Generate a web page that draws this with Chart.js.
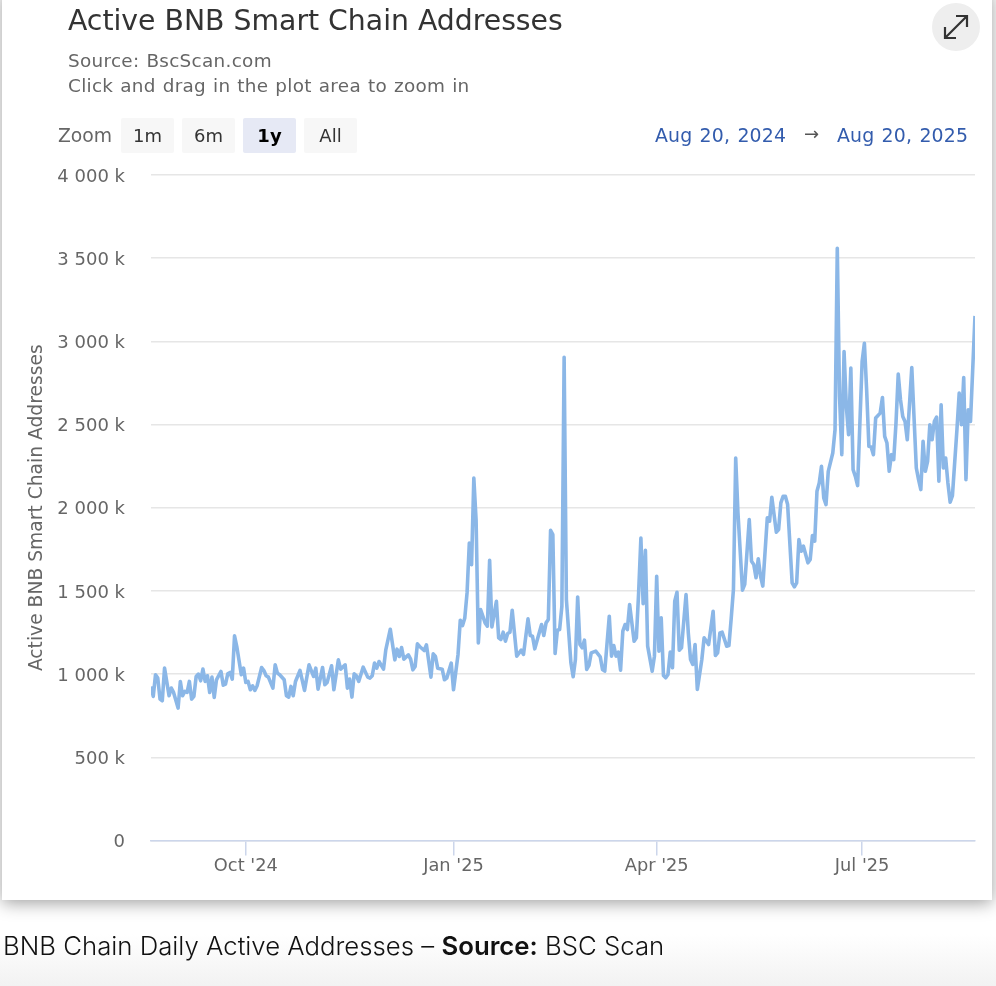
<!DOCTYPE html>
<html>
<head>
<meta charset="utf-8">
<title>Active BNB Smart Chain Addresses</title>
<script src="https://cdn.jsdelivr.net/npm/chart.js@4"></script>
<style>
    html, body { margin: 0; padding: 0; width: 996px; height: 986px; overflow: hidden; background: #fff; }
    body { position: relative; font-family: "DejaVu Sans", sans-serif; }
    .page-bottom { position: absolute; left: 0; top: 900px; width: 996px; height: 86px; background: linear-gradient(#fff 40%, #f2f2f2); }
    .card { position: absolute; left: 2px; top: -10px; width: 990px; height: 910px; background: #fff; box-shadow: 0 3px 16px rgba(0, 0, 0, .38); }
    #chart { position: absolute; left: 0; top: 0; }
    .txt { position: absolute; white-space: nowrap; line-height: 1; }
    .title { left: 68px; top: 7px; font-size: 28.3px; color: #333; }
    .sub { left: 68px; font-size: 18.4px; letter-spacing: .3px; word-spacing: .8px; color: #666; }
    .zoom-label { left: 58px; top: 127px; font-size: 18.8px; color: #666; }
    .btn { position: absolute; top: 118px; width: 53px; height: 35px; line-height: 36px; text-align: center; background: #f7f7f7; color: #333; font-size: 18px; border-radius: 2px; }
    .btn.on { background: #e6e9f5; font-weight: bold; color: #000; }
    .range { top: 126px; font-size: 18.9px; letter-spacing: .18px; word-spacing: 1px; color: #335cad; }
    .arrow { left: 804px; top: 125px; font-size: 18px; color: #555; }
    .expand { position: absolute; left: 932px; top: 3px; width: 48px; height: 48px; border-radius: 50%; background: #eee; }
    .caption { left: 3px; top: 933px; font-family: Inter, sans-serif; font-weight: 300; font-size: 25.75px; color: #111; }
    .caption b { font-weight: 600; }
</style>
</head>
<body>
<div class="page-bottom"></div>
<div class="card"></div>
<canvas id="chart" width="996" height="986"></canvas>

<div class="txt title">Active BNB Smart Chain Addresses</div>
<div class="txt sub" style="top:52px">Source: BscScan.com</div>
<div class="txt sub" style="top:77px">Click and drag in the plot area to zoom in</div>
<div class="txt zoom-label">Zoom</div>
<div class="btn" style="left:121px">1m</div>
<div class="btn" style="left:182px">6m</div>
<div class="btn on" style="left:243px">1y</div>
<div class="btn" style="left:304px">All</div>
<div class="txt range" style="left:655px">Aug 20, 2024</div>
<div class="txt arrow">→</div>
<div class="txt range" style="left:837px">Aug 20, 2025</div>
<div class="expand">
    <svg width="48" height="48" viewBox="0 0 48 48" fill="none" stroke="#333" stroke-width="2.2">
        <path d="M13 35 L35 13 M24 13 H35 V24 M13 24 V35 H24"/>
    </svg>
</div>
<div class="txt caption">BNB Chain Daily Active Addresses – <b>Source:</b> BSC Scan</div>

<script>
// days since Aug 20, 2024
const dayOffsets = [
    0, 1, 2, 3, 4, 5, 6, 8, 9, 10, 12, 13, 14, 15, 16, 17, 18, 19, 20, 21, 22, 23, 24, 25, 26, 27, 28, 29, 31, 32,
    33, 34, 35, 36, 37, 38, 40, 41, 42, 43, 44, 45, 46, 47, 49, 50, 51, 52, 54, 55, 56, 57, 59, 60, 61, 62, 63, 64, 66, 68,
    70, 72, 73, 74, 76, 77, 78, 80, 81, 83, 84, 86, 87, 88, 89, 90, 91, 92, 94, 96, 97, 98, 99, 100, 101, 103, 104, 106, 108, 109,
    110, 111, 112, 114, 115, 116, 117, 118, 119, 121, 122, 124, 125, 126, 127, 129, 130, 131, 133, 134,
    136, 137, 138, 139, 140, 141, 142, 143, 144, 145, 146, 148, 149, 150, 151, 153, 154, 155, 156, 157, 158, 159, 160, 162, 164, 165,
    167, 168, 169, 170, 173, 174, 175, 176, 177, 178, 179, 180, 181, 182, 183, 184, 186, 187, 188, 189, 190, 191, 192, 193, 194, 195,
    197, 199, 200, 201, 203, 204, 205, 206, 207, 208, 209, 210, 211, 212, 214, 215, 216, 217, 218, 219, 220, 222, 223, 224, 225, 226,
    227, 228, 229, 230, 231, 232, 233, 234, 235, 237, 238, 239, 240, 241, 242, 244, 245, 247, 249, 250, 251, 252, 253, 255, 256,
    257, 258, 259, 260, 262, 263, 265, 266, 267, 268, 269, 270, 271, 273, 274, 275, 277, 278, 279, 280, 281, 282, 284, 285, 286, 287,
    288, 289, 291, 292, 293, 294, 295, 296, 297, 298, 299, 300, 302, 303, 304, 305, 306, 307, 308, 309, 310, 311, 312, 313, 315, 316,
    317, 318, 319, 320, 321, 323, 324, 325, 326, 327, 328, 329, 330, 331, 332, 333, 334, 335, 337, 339, 340, 341, 342, 343, 344, 345,
    346, 347, 348, 349, 350, 351, 352, 353, 354, 355, 357, 358, 359, 360, 361, 362, 363, 365
];

// active addresses, thousands
const activeAddresses = [
    926, 866, 996, 976, 850, 840, 1036, 870, 916, 890, 796, 956, 870, 896, 890, 956, 850, 866, 986, 1000, 960, 1030, 956, 990, 890, 982, 860, 966, 1016, 934,
    940, 1002, 1010, 970, 1230, 1166, 996, 1036, 950, 956, 906, 930, 902, 930, 1040, 1022, 990, 982, 916, 1056, 1006, 996, 966, 870, 862, 926, 870, 956, 1022, 902,
    1056, 986, 1036, 910, 1040, 936, 950, 1050, 906, 1086, 1030, 1056, 916, 970, 862, 1002, 990, 956, 1042, 982, 976, 990, 1066, 1036, 1076, 1030, 1146, 1270, 1086, 1150,
    1106, 1160, 1090, 1116, 1090, 1026, 1046, 1182, 1166, 1142, 1176, 982, 1122, 1106, 1036, 1030, 966, 976, 1066, 906,
    1118, 1324, 1292, 1338, 1488, 1788, 1658, 2178, 1928, 1188, 1388, 1308, 1288, 1684, 1284, 1438, 1218, 1208, 1252, 1198, 1244, 1252, 1384, 1108, 1144, 1118,
    1332, 1232, 1228, 1152, 1298, 1232, 1308, 1328, 1864, 1838, 1124, 1264, 1268, 1408, 2904, 1448, 1068, 984, 1088, 1464, 1178, 1158, 1204, 1028, 1052, 1128,
    1138, 1104, 1028, 1018, 1348, 1108, 1172, 1108, 1132, 1024, 1258, 1298, 1268, 1418, 1198, 1218, 1488, 1818, 1424, 1744, 1168, 1018, 1108, 1588, 1138, 1338,
    992, 978, 998, 1132, 1038, 1438, 1492, 1144, 1158, 1478, 1248, 1088, 1058, 1178, 908, 1088, 1218, 1178, 1378, 1112, 1128, 1248, 1252, 1168, 1172,
    1333, 1509, 2299, 1969, 1505, 1539, 1929, 1679, 1659, 1579, 1693, 1589, 1529, 1939, 1919, 2063, 1853, 1869, 2029, 2069, 2069, 2019, 1549, 1525, 1549, 1809,
    1739, 1769, 1669, 1689, 1833, 1799, 2099, 2149, 2249, 2059, 2019, 2219, 2329, 2469, 3559, 2669, 2319, 2939, 2609, 2439, 2839, 2229, 2189, 2133, 2879, 2989,
    2709, 2369, 2365, 2319, 2539, 2569, 2663, 2429, 2389, 2219, 2319, 2289, 2509, 2803, 2649, 2549, 2519, 2409, 2843, 2239, 2169, 2109, 2399, 2219, 2279, 2499,
    2409, 2519, 2545, 2159, 2619, 2239, 2299, 2149, 2033, 2073, 2469, 2689, 2499, 2783, 2169, 2589, 2519, 3153
];

const xTickDays = [42, 134, 224, 315];
const xTickLabels = ["Oct '24", "Jan '25", "Apr '25", "Jul '25"];
const yTickValues = [0, 500, 1000, 1500, 2000, 2500, 3000, 3500, 4000];
const yTickLabels = ['0', '500 k', '1 000 k', '1 500 k', '2 000 k', '2 500 k', '3 000 k', '3 500 k', '4 000 k'];

const font = '"DejaVu Sans", sans-serif';

new Chart(document.getElementById('chart'), {
    type: 'line',
    data: {
        datasets: [{
            data: dayOffsets.map((day, i) => ({ x: day, y: activeAddresses[i] })),
            borderColor: '#8bb7e7',
            borderWidth: 3.6,
            borderJoinStyle: 'round',
            pointRadius: 0,
            tension: 0
        }]
    },
    options: {
        responsive: false,
        animation: false,
        layout: { padding: { left: 0, right: 21, top: 175, bottom: 105 } },
        plugins: { legend: { display: false }, tooltip: { enabled: false } },
        scales: {
            x: {
                type: 'linear',
                min: 0,
                max: 365,
                afterBuildTicks: axis => { axis.ticks = xTickDays.map(value => ({ value })); },
                afterFit: axis => { axis.height = 40.5; },
                ticks: {
                    autoSkip: false,
                    maxRotation: 0,
                    padding: 0,
                    color: '#666',
                    font: { family: font, size: 17.8 },
                    callback: value => xTickLabels[xTickDays.indexOf(value)]
                },
                border: { color: '#ccd6eb', width: 1.5 },
                grid: { drawOnChartArea: false, color: '#ccd6eb', tickLength: 15, lineWidth: 1.5 }
            },
            y: {
                min: 0,
                max: 4000,
                afterBuildTicks: axis => { axis.ticks = yTickValues.map(value => ({ value })); },
                afterFit: axis => { axis.width = 151; },
                ticks: {
                    padding: 26,
                    labelOffset: 2,
                    color: '#666',
                    font: { family: font, size: 18 },
                    callback: value => yTickLabels[yTickValues.indexOf(value)]
                },
                border: { display: false },
                grid: { color: '#e6e6e6', lineWidth: 1.5, drawTicks: false },
                title: {
                    display: true,
                    text: 'Active BNB Smart Chain Addresses',
                    color: '#666',
                    font: { family: font, size: 18.7 },
                    padding: { top: 26, bottom: 0 }
                }
            }
        }
    }
});
</script>
</body>
</html>
